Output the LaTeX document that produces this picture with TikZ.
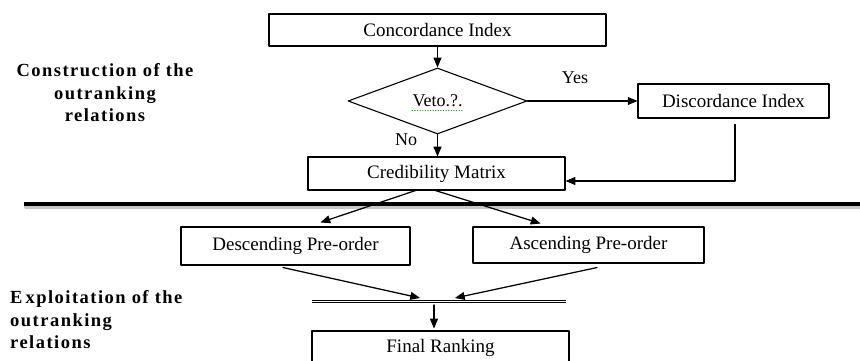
\documentclass[tikz,border=0pt]{standalone}
\usepackage{fontspec}
\setmainfont{Liberation Serif}
\newfontfamily\sidefont[LetterSpace=8]{Liberation Serif}
\usepackage{tikz}
\usetikzlibrary{arrows,shapes.geometric}

\begin{document}
\begin{tikzpicture}[line cap=round,line join=round,>=triangle 45,x=1pt,y=-1pt,
    box/.style={draw,line width=1.1pt,inner sep=0pt,font=\fontsize{19}{21}\selectfont},
    flow/.style={->,line width=1.25pt},
    side/.style={inner sep=0pt,font=\sidefont\bfseries\fontsize{18.5}{22.5}\selectfont}]
      \clip (0,0) rectangle (860,361);
      \fill[white] (0,0) rectangle (860,361);

      \node[side,align=center] (constr) at (105,93) {Construction of the\\outranking\\relations};
      \node[side,align=left,anchor=west] (exploit) at (10,320) {E\hspace{3pt}xploitation of the\\outranking\\relations};

      \node[box,minimum width=337,minimum height=32] (conc) at (437.5,30) {Concordance Index};
      \node[box,diamond,minimum width=179,minimum height=66,font=\fontsize{18}{20}\selectfont] (veto) at (437.5,101) {Veto.?.};
      \node[box,minimum width=191,minimum height=34] (disc) at (733.5,101) {Discordance Index};
      \node[box,minimum width=257,minimum height=33] (cred) at (436.5,173.5) {Credibility Matrix};
      \node[box,minimum width=229,minimum height=38] (desc) at (295.5,246) {Descending Pre-order};
      \node[box,minimum width=231,minimum height=36] (asc) at (588.5,245) {Ascending Pre-order};
      \node[box,minimum width=257,minimum height=34] (final) at (440.5,348) {Final Ranking};

      \draw[green!60!black,dotted,line width=0.6pt] (412,110) -- (463,110);

      \node[font=\fontsize{18}{20}\selectfont] (yes) at (575,78) {Yes};
      \node[font=\fontsize{18}{20}\selectfont] (no) at (406,140) {No};

      \draw[flow] (conc.south) -- (veto.north);
      \draw[flow] (veto.east) -- (disc.west);
      \draw[flow] (veto.south) -- (cred.north -| veto.south);
      \draw[flow] ([xshift=1.5pt,yshift=-6pt]disc.south) |- ([yshift=-7.5pt]cred.east);

      % separation
      \draw[line width=4pt,black!22] (26,207) -- (860,207);
      \draw[line width=4.5pt,line cap=butt] (24,204) -- (860,204);

      \draw[flow] ([xshift=-21pt]cred.south) -- ([xshift=25pt,yshift=4pt]desc.north);
      \draw[flow] ([xshift=-1pt]cred.south) -- ([xshift=-48pt,yshift=3pt]asc.north);

      \coordinate (barL) at (312,301.5);
      \coordinate (barR) at (566,301.5);
      \coordinate (inL) at (420,298);
      \coordinate (inR) at (455,298);
      \coordinate (outB) at (434,305);
      \draw[double,double distance=1.6pt,line width=0.9pt,line cap=butt] (barL) -- (barR);

      \draw[flow] ([xshift=-12.5pt,yshift=-2pt]desc.south) -- (inL);
      \draw[flow] ([xshift=8.5pt,yshift=-4pt]asc.south) -- (inR);
      \draw[flow] (outB) -- ([yshift=2pt]final.north -| outB);
\end{tikzpicture}
\end{document}
